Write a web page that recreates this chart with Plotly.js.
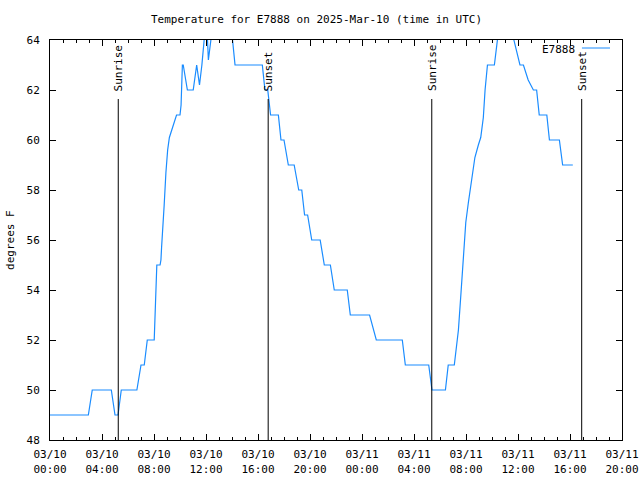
<!DOCTYPE html>
<html>
<head>
<meta charset="utf-8">
<script src="https://cdn.plot.ly/plotly-3.0.1.min.js"></script>
<style>html,body{margin:0;padding:0;background:#fff;}#chart{width:640px;height:480px;}</style>
</head>
<body>
<div id="chart"></div>
<script>
// Temperature readings (UTC)
const times = [
 "2025-03-10 00:00","2025-03-10 02:57","2025-03-10 03:15","2025-03-10 04:43","2025-03-10 05:00",
 "2025-03-10 05:14","2025-03-10 05:29","2025-03-10 06:41","2025-03-10 07:00","2025-03-10 07:15",
 "2025-03-10 07:29","2025-03-10 08:01","2025-03-10 08:07","2025-03-10 08:13","2025-03-10 08:28",
 "2025-03-10 08:32","2025-03-10 08:35","2025-03-10 08:43","2025-03-10 08:47","2025-03-10 08:55",
 "2025-03-10 09:03","2025-03-10 09:11","2025-03-10 09:22","2025-03-10 09:34","2025-03-10 09:44",
 "2025-03-10 10:00","2025-03-10 10:05","2025-03-10 10:11","2025-03-10 10:15","2025-03-10 10:34",
 "2025-03-10 11:01","2025-03-10 11:17","2025-03-10 11:30","2025-03-10 11:41","2025-03-10 11:55",
 "2025-03-10 12:02","2025-03-10 12:11","2025-03-10 12:23","2025-03-10 12:37","2025-03-10 13:51",
 "2025-03-10 14:14","2025-03-10 16:20","2025-03-10 16:32","2025-03-10 16:45","2025-03-10 16:58",
 "2025-03-10 17:34","2025-03-10 17:46","2025-03-10 18:00","2025-03-10 18:20","2025-03-10 18:47",
 "2025-03-10 19:08","2025-03-10 19:22","2025-03-10 19:35","2025-03-10 19:49","2025-03-10 20:08",
 "2025-03-10 20:47","2025-03-10 21:06","2025-03-10 21:34","2025-03-10 21:52","2025-03-10 22:52",
 "2025-03-10 23:06","2025-03-11 00:35","2025-03-11 01:06","2025-03-11 03:06","2025-03-11 03:20",
 "2025-03-11 05:08","2025-03-11 05:20","2025-03-11 05:23","2025-03-11 06:25","2025-03-11 06:38",
 "2025-03-11 07:06","2025-03-11 07:25","2025-03-11 07:37","2025-03-11 07:47","2025-03-11 07:59",
 "2025-03-11 08:11","2025-03-11 08:26","2025-03-11 08:41","2025-03-11 08:57","2025-03-11 09:08",
 "2025-03-11 09:20","2025-03-11 09:28","2025-03-11 09:39","2025-03-11 10:11","2025-03-11 10:25",
 "2025-03-11 10:35","2025-03-11 11:32","2025-03-11 11:41","2025-03-11 12:09","2025-03-11 12:25",
 "2025-03-11 12:47","2025-03-11 13:11","2025-03-11 13:26","2025-03-11 13:38","2025-03-11 14:13",
 "2025-03-11 14:25","2025-03-11 15:11","2025-03-11 15:26","2025-03-11 16:13"
];
const temps = [
 49,49,50,50,49,
 49,50,50,51,51,
 52,52,53.5,55,55,
 55.2,55.7,56.7,57.4,58.7,
 59.6,60.1,60.4,60.7,61,
 61,61.4,63,63,62,
 62,63,62.2,63,64.5,
 65,63.2,64.2,65,65,
 63,63,62,62,61,
 61,60,60,59,59,
 58,58,57,57,56,
 56,55,55,54,54,
 53,53,52,52,51,
 51,50.1,50,50,51,
 51,52.4,53.9,55.2,56.7,
 57.5,58.4,59.3,59.8,60.1,
 60.9,62,63,63,64,
 65,65,64,63,63,
 62.4,62,62,61,61,
 60,60,59,59
];
const seriesName = "E7888";
const eventTimes = ["2025-03-10 05:15","2025-03-10 16:47","2025-03-11 05:22","2025-03-11 16:54"];
const eventLabels = ["Sunrise","Sunset","Sunrise","Sunset"];
const xRange = ["2025-03-10 00:00","2025-03-11 20:00"];
const yRange = [48, 64];

const FONT = "DejaVu Sans Mono, monospace";
const shapes = [];
const annotations = [];
eventTimes.forEach((t, i) => {
  shapes.push({type:"line", xref:"x", yref:"paper", x0:t, x1:t, y0:0, y1:0.8525,
               line:{color:"#000", width:1}});
  annotations.push({x:t, xref:"x", y:0.867, yref:"paper", text:eventLabels[i], textangle:-90,
               showarrow:false, xanchor:"center", yanchor:"bottom",
               font:{family:FONT, size:11, color:"#000"}});
});
// legend (text left, sample right, as in reference)
annotations.push({x:0.922, xref:"paper", y:0.977, yref:"paper", text:seriesName, showarrow:false,
  xanchor:"right", yanchor:"middle", font:{family:FONT, size:11, color:"#000"}});
shapes.push({type:"line", xref:"paper", yref:"paper", x0:0.930, x1:0.979, y0:0.98, y1:0.98,
  line:{color:"#1a8cff", width:1}});
// y axis title
annotations.push({x:-0.07, xref:"paper", y:0.5, yref:"paper", text:"degrees F", textangle:-90,
  showarrow:false, xanchor:"center", yanchor:"middle", font:{family:FONT, size:11, color:"#000"}});

const trace = {x:times, y:temps, type:"scatter", mode:"lines", name:seriesName,
  line:{color:"#1a8cff", width:1.2}, showlegend:false};

const layout = {
  width:640, height:480,
  margin:{l:50, r:18, t:40, b:40},
  paper_bgcolor:"#fff", plot_bgcolor:"#fff",
  font:{family:FONT, size:11, color:"#000"},
  title:{text:"Temperature for E7888 on 2025-Mar-10 (time in UTC)", xref:"container", x:0.4945,
         xanchor:"center", y:0.96, yanchor:"middle", font:{family:FONT, size:11, color:"#000"}},
  xaxis:{type:"date", range:xRange, dtick:14400000, tick0:"2025-03-10 00:00",
         tickformat:"%m/%d<br>%H:%M", ticks:"inside", ticklen:6, tickcolor:"#000",
         ticklabelstandoff:4,
         showline:true, linecolor:"#000", linewidth:1, mirror:"allticks", showgrid:false, zeroline:false,
         minor:{dtick:3600000, ticks:"inside", ticklen:3, tickcolor:"#000", showgrid:false},
         tickfont:{family:FONT, size:11, color:"#000"}},
  yaxis:{range:yRange, dtick:2, ticks:"inside", ticklen:6, tickcolor:"#000",
         ticklabelstandoff:7,
         showline:true, linecolor:"#000", linewidth:1, mirror:"allticks", showgrid:false, zeroline:false,
         tickfont:{family:FONT, size:11, color:"#000"}},
  shapes:shapes, annotations:annotations
};
Plotly.newPlot("chart", [trace], layout, {displayModeBar:false, staticPlot:true});
</script>
</body>
</html>
